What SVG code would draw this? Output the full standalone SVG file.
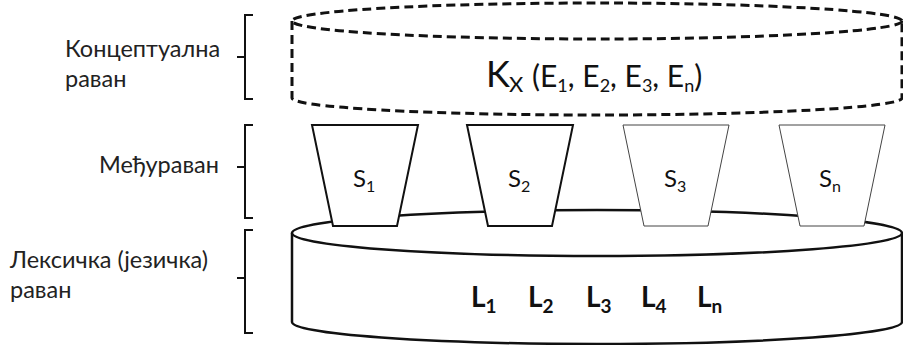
<svg xmlns="http://www.w3.org/2000/svg" width="903" height="345" viewBox="0 0 903 345">
<style>
.lbl{font-family:Lato,"Liberation Sans",sans-serif;font-size:23.5px;fill:#222}
.k{font-family:Lato,"Liberation Sans",sans-serif;font-size:30px;fill:#111}
.s{font-family:Lato,"Liberation Sans",sans-serif;font-size:24px;fill:#111}
.l{font-family:Lato,"Liberation Sans",sans-serif;font-size:28px;font-weight:bold;fill:#111}
.br{fill:none;stroke:#111;stroke-width:2}
.dash{fill:none;stroke:#111;stroke-width:3;stroke-dasharray:9 5}
.solid{fill:#fff;stroke:#111;stroke-width:2.5}
.trapA{fill:#fff;stroke:#111;stroke-width:2}
.trapB{fill:#fff;stroke:#444;stroke-width:1}
</style>
<g id="labels">
<text class="lbl" x="65" y="57">Концептуална</text>
<text class="lbl" x="65" y="87">раван</text>
<text class="lbl" x="219" y="173" text-anchor="end">Међураван</text>
<text class="lbl" x="10" y="268">Лексичка (језичка)</text>
<text class="lbl" x="10" y="298">раван</text>
</g>
<g id="brackets">
<path class="br" d="M253,15 H245 V99 H253 M237,57 H245"/>
<path class="br" d="M253,125 H245 V218 H253 M237,167 H245"/>
<path class="br" d="M253,230 H245 V333 H253 M237,278 H245"/>
</g>
<g id="conceptual">
<ellipse class="dash" cx="597" cy="21" rx="305" ry="18"/>
<path class="dash" d="M292,21 V98 A305,17 0 0 0 902,98 V21"/>
<text class="k" y="87"><tspan x="486" font-size="36">K</tspan><tspan x="509" dy="5" font-size="22">X</tspan><tspan x="532" dy="-5">(E</tspan><tspan dy="5" font-size="18">1</tspan><tspan dy="-5">, E</tspan><tspan dy="5" font-size="18">2</tspan><tspan dy="-5">, E</tspan><tspan dy="5" font-size="18">3</tspan><tspan dy="-5">, E</tspan><tspan dy="5" font-size="18">n</tspan><tspan dy="-5">)</tspan></text>
</g>
<g id="lexical">
<path class="solid" d="M292,233 V322 A305,22 0 0 0 902,322 V233"/>
<ellipse class="solid" cx="597" cy="233" rx="305" ry="23"/>
<text class="l" y="307"><tspan x="471">L</tspan><tspan dy="6" font-size="19">1</tspan><tspan x="528" dy="-6">L</tspan><tspan dy="6" font-size="19">2</tspan><tspan x="586" dy="-6">L</tspan><tspan dy="6" font-size="19">3</tspan><tspan x="641" dy="-6">L</tspan><tspan dy="6" font-size="19">4</tspan><tspan x="697" dy="-6">L</tspan><tspan dy="6" font-size="19">n</tspan></text>
</g>
<g id="s1">
<path class="trapA" d="M312,125 H418 L397,226 H333 Z"/>
<text class="s" y="187"><tspan x="353">S</tspan><tspan dy="5" font-size="16">1</tspan></text>
</g>
<g id="s2">
<path class="trapA" d="M467,125 H573 L552,226 H488 Z"/>
<text class="s" y="187"><tspan x="508">S</tspan><tspan dy="5" font-size="16">2</tspan></text>
</g>
<g id="s3">
<path class="trapB" d="M623,125 H729 L708,226 H644 Z"/>
<text class="s" y="187"><tspan x="664">S</tspan><tspan dy="5" font-size="16">3</tspan></text>
</g>
<g id="sn">
<path class="trapB" d="M779,125 H885 L864,226 H800 Z"/>
<text class="s" y="187"><tspan x="819">S</tspan><tspan dy="5" font-size="16">n</tspan></text>
</g>
<g id="connectors"></g>
</svg>
